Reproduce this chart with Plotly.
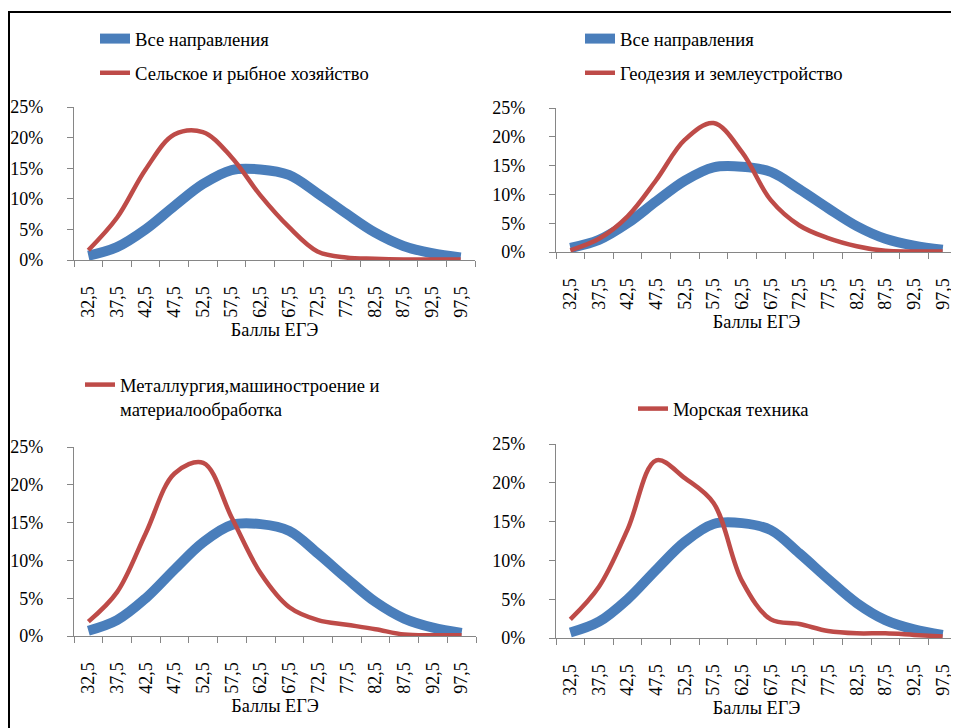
import plotly.graph_objects as go

# баллы ЕГЭ (середины интервалов)
scores = ["32,5", "37,5", "42,5", "47,5", "52,5", "57,5", "62,5",
          "67,5", "72,5", "77,5", "82,5", "87,5", "92,5", "97,5"]

# доли абитуриентов, %
vse = [0.7, 2.1, 5.0, 8.8, 12.4, 14.7, 14.8, 13.9, 10.9, 7.6, 4.5, 2.3, 1.1, 0.4]
selsk = [1.6, 6.9, 14.8, 20.5, 20.9, 16.8, 10.6, 5.4, 1.4, 0.4, 0.2, 0.1, 0.1, 0.1]
geod = [0.3, 2.3, 6.2, 12.5, 19.5, 22.4, 17.3, 9.0, 4.6, 2.4, 1.0, 0.2, 0.1, 0.1]
metal = [1.9, 5.8, 13.6, 21.5, 22.9, 15.6, 8.3, 3.8, 2.1, 1.5, 0.9, 0.2, 0.1, 0.1]
morsk = [2.4, 6.6, 14.0, 22.9, 20.6, 17.4, 7.3, 2.4, 1.8, 0.9, 0.6, 0.6, 0.4, 0.2]

y_ticks = [0, 5, 10, 15, 20, 25]
y_labels = ["0%", "5%", "10%", "15%", "20%", "25%"]

all_name = "Все направления"
red_names = ["Сельское и рыбное хозяйство",
             "Геодезия и землеустройство",
             "Металлургия,машиностроение и<br>материалообработка",
             "Морская техника"]
red_series = [selsk, geod, metal, morsk]

# page body has an 8px margin, so the figure is a bit smaller than the window
OFF = 8
W, H = 959 - OFF, 728 - OFF
BLUE = "#4A7EBB"
RED = "#BE4B48"
AXC = "#868686"
FONT = "Liberation Serif, Times New Roman, serif"

# plot boxes in window pixels: x0, x1, y0(top), y1(bottom)
boxes = [(74, 475, 107, 260), (556, 957, 108, 252),
         (74, 476, 447, 636), (556, 957, 444, 638)]
# legend top-left corners in window pixels
leg_pos = [(95, 20), (580, 20), (80, 366), (633, 390)]


def px(x):
    return (x - OFF) / W


def py(y):
    return 1 - (y - OFF) / H


fig = go.Figure()
layout = {}
for i in range(4):
    n = i + 1
    xa = "x" if n == 1 else f"x{n}"
    ya = "y" if n == 1 else f"y{n}"
    lg = "legend" if n == 1 else f"legend{n}"
    fig.add_trace(go.Scatter(
        x=scores, y=vse, name=all_name, mode="lines",
        line=dict(color=BLUE, width=10, shape="spline", smoothing=1),
        xaxis=xa, yaxis=ya, legend=lg, legendgroup=f"a{n}",
        showlegend=(n <= 2), hoverinfo="skip"))
    fig.add_trace(go.Scatter(
        x=scores, y=red_series[i], name=red_names[i], mode="lines",
        line=dict(color=RED, width=4.5, shape="spline", smoothing=1),
        xaxis=xa, yaxis=ya, legend=lg, legendgroup=f"b{n}",
        hoverinfo="skip"))

    x0, x1, y0, y1 = boxes[i]
    xk = "xaxis" if n == 1 else f"xaxis{n}"
    yk = "yaxis" if n == 1 else f"yaxis{n}"
    layout[xk] = dict(
        domain=[px(x0), px(x1)], anchor=ya, type="category",
        range=[-0.5, len(scores) - 0.5],
        showline=True, linecolor=AXC, linewidth=1.3,
        ticks="outside", tickson="boundaries", ticklen=6, tickcolor=AXC,
        tickangle=-90, showgrid=False, zeroline=False,
        tickfont=dict(family=FONT, size=18, color="black"),
        title=dict(text="Баллы ЕГЭ", font=dict(family=FONT, size=18.3, color="black"),
                   standoff=6),
        ticklabelstandoff=18, automargin=False,
    )
    layout[yk] = dict(
        domain=[py(y1), py(y0)], anchor=xa, range=[0, 25],
        tickmode="array", tickvals=y_ticks, ticktext=y_labels,
        showline=True, linecolor=AXC, linewidth=1.3,
        ticks="outside", ticklen=6, tickcolor=AXC,
        showgrid=False, zeroline=False,
        tickfont=dict(family=FONT, size=18, color="black"),
        ticklabelstandoff=20, automargin=False,
    )
    lx, ly = leg_pos[i]
    layout[lg] = dict(
        x=px(lx), y=py(ly), xanchor="left", yanchor="top",
        bgcolor="rgba(0,0,0,0)", tracegroupgap=7, valign="top",
        font=dict(family=FONT, size=18.6, color="black"),
    )

fig.update_layout(**layout)
fig.update_layout(
    width=W, height=H,
    margin=dict(l=0, r=0, t=0, b=0, pad=0, autoexpand=False),
    paper_bgcolor="white", plot_bgcolor="white",
    font=dict(family=FONT, size=18, color="black"),
    shapes=[dict(type="rect", xref="paper", yref="paper",
                 x0=px(9), x1=1.1, y0=-0.1, y1=py(12),
                 line=dict(color="black", width=2))],
)

fig.write_html("out.html")
